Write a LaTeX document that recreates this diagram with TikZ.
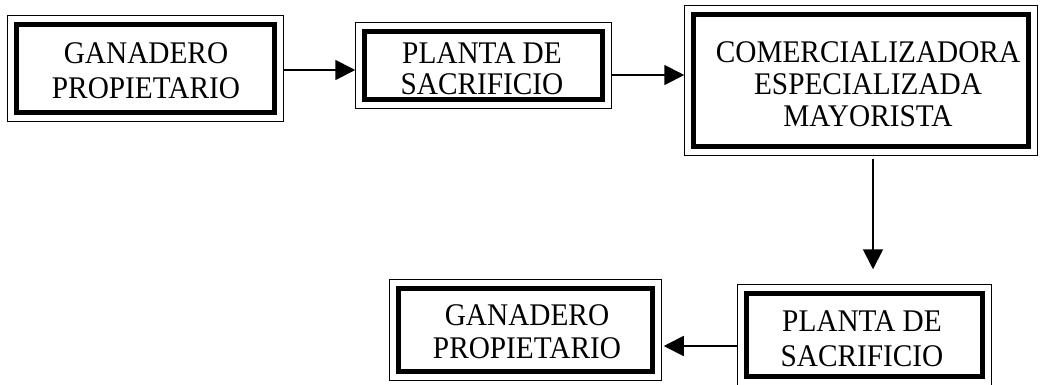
\documentclass[tikz,border=0pt]{standalone}
\usepackage{fontspec}
\setmainfont{Liberation Serif}[FakeStretch=0.93]
\usetikzlibrary{arrows.meta}
\begin{document}
\begin{tikzpicture}[x=1pt,y=-1pt,
  tbox/.style={draw=black, line width=5.5pt, rectangle, inner sep=0pt},
  txt/.style={align=center, inner sep=0pt, font=\fontsize{31.5}{34}\selectfont},
  obox/.style={draw=black, line width=1.4pt},
  arr/.style={draw=black, line width=1.8pt, -{Triangle[length=20pt,width=20pt]}}]
\useasboundingbox (0,0) rectangle (1044,384);
% boxes (thick inner frame)
\node[tbox, minimum width=258pt, minimum height=88pt] (b1) at (145.5,68.5) {};
\node[tbox, minimum width=238pt, minimum height=68pt] (b2) at (483.5,65.5) {};
\node[tbox, minimum width=335pt, minimum height=132pt] (b3) at (861,80.5) {};
\node[tbox, minimum width=254pt, minimum height=83pt] (b4) at (525.5,330) {};
\node[tbox, minimum width=236pt, minimum height=83pt] (b5) at (864.5,335) {};
% outer thin frames
\foreach \b in {b1,b2,b3,b4,b5}{
  \draw[obox] ([shift={(-6.5pt,6.5pt)}]\b.north west) rectangle ([shift={(6.5pt,-6.5pt)}]\b.south east);
}
% texts
\node[txt, font=\fontsize{31.5}{35}\selectfont] (t1) at (146,70.5) {GANADERO\\PROPIETARIO};
\node[txt, font=\fontsize{31.5}{31}\selectfont] (t2) at (482,68.5) {PLANTA DE\\SACRIFICIO};
\node[txt, font=\fontsize{31.5}{32}\selectfont] (t3) at (868,84) {COMERCIALIZADORA\\ESPECIALIZADA\\MAYORISTA};
\node[txt, font=\fontsize{31.5}{33}\selectfont] (t4) at (527,332) {GANADERO\\PROPIETARIO};
\node[txt, font=\fontsize{31.5}{35}\selectfont] (t5) at (862,338.5) {PLANTA DE\\SACRIFICIO};
% connectors
\draw[arr] ([xshift=6.5pt,yshift=-1.5pt]b1.east) -- ([xshift=-6.5pt,yshift=-1.5pt]b1.east -| b2.west);
\draw[arr] ([xshift=6.5pt,yshift=-9.5pt]b2.east) -- ([xshift=-6.5pt,yshift=-9.5pt]b2.east -| b3.west);
\draw[arr] ([xshift=12pt,yshift=-10pt]b3.south) -- ([xshift=12pt,yshift=21.5pt]b3.south |- b5.north);
\draw[arr] ([xshift=-6.5pt,yshift=-11pt]b5.west) -- ([xshift=8.5pt,yshift=-11pt]b5.west -| b4.east);
\end{tikzpicture}
\end{document}
